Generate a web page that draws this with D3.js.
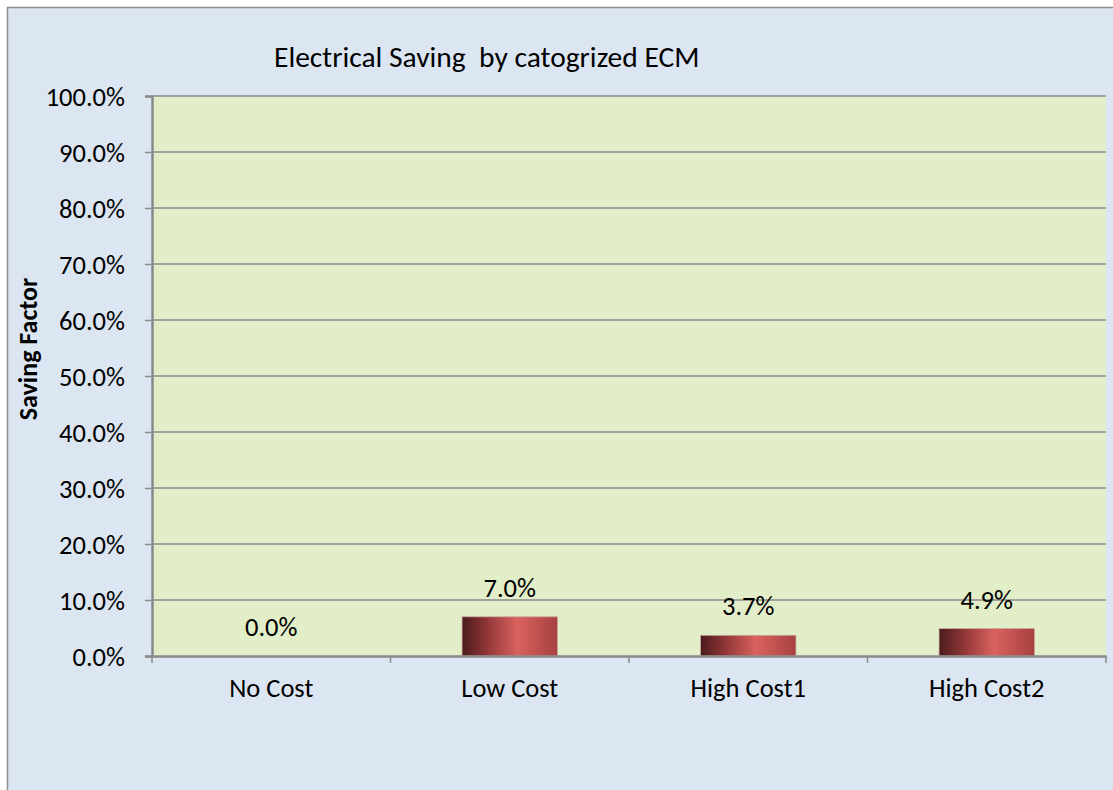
<!DOCTYPE html>
<html>
<head>
<meta charset="utf-8">
<script src="https://cdn.jsdelivr.net/npm/d3@7"></script>
<style>
  html, body { margin: 0; padding: 0; background: #ffffff; }
  svg { display: block; }
  text { font-family: Carlito, Lato, "Open Sans", "Liberation Sans", sans-serif; fill: #000; }
</style>
</head>
<body>
<svg id="chart" width="1113" height="790"></svg>
<script>
// Savings by ECM category
const categories = ["No Cost", "Low Cost", "High Cost1", "High Cost2"];
const savings = [0.0, 0.070, 0.037, 0.049];
const yTicks = [0, 0.1, 0.2, 0.3, 0.4, 0.5, 0.6, 0.7, 0.8, 0.9, 1.0];

const svg = d3.select("#chart");
const W = 1113, H = 790;
const plot = { left: 152, top: 96, right: 1106, bottom: 656 };

// chart frame
svg.append("rect")
  .attr("x", 7.5).attr("y", 7.5)
  .attr("width", W + 10).attr("height", H + 10)
  .attr("fill", "#dce6f2").attr("stroke", "#8c8c8c").attr("stroke-width", 1.5);

const x = d3.scaleBand().domain(categories).range([plot.left, plot.right]).paddingInner(0.6).paddingOuter(0.3);
const xOuter = d3.scaleBand().domain(categories).range([plot.left, plot.right]);
const y = d3.scaleLinear().domain([0, 1]).range([plot.bottom, plot.top]);

// plot area
svg.append("rect")
  .attr("x", plot.left).attr("y", plot.top)
  .attr("width", plot.right - plot.left).attr("height", plot.bottom - plot.top)
  .attr("fill", "#e1eec7");

// gridlines
svg.append("g").selectAll("line").data(yTicks.slice(1)).join("line")
  .attr("x1", plot.left).attr("x2", plot.right)
  .attr("y1", d => y(d)).attr("y2", d => y(d))
  .attr("stroke", "#8a8a8a").attr("stroke-width", 1.5);

// y axis
const yAxis = svg.append("g").attr("transform", `translate(${plot.left},0)`)
  .call(d3.axisLeft(y).tickValues(yTicks).tickFormat(d3.format(".1%")).tickSize(7).tickPadding(20));
yAxis.select(".domain").attr("stroke", "#8a8a8a").attr("stroke-width", 2.5);
yAxis.selectAll(".tick line").attr("stroke", "#8a8a8a").attr("stroke-width", 1.5);
yAxis.selectAll(".tick text").style("font-size", "26.5px").attr("dy", "0.35em");

// bar gradient
const defs = svg.append("defs");
const grad = defs.append("linearGradient").attr("id", "barGrad").attr("x1", "0").attr("x2", "1").attr("y1", "0").attr("y2", "0");
grad.append("stop").attr("offset", "0%").attr("stop-color", "#4a1b1c");
grad.append("stop").attr("offset", "25%").attr("stop-color", "#8e3536");
grad.append("stop").attr("offset", "58%").attr("stop-color", "#da625f");
grad.append("stop").attr("offset", "100%").attr("stop-color", "#a64140");

// bars
svg.append("g").selectAll("rect").data(categories).join("rect")
  .attr("x", d => x(d))
  .attr("y", (d, i) => y(savings[i]))
  .attr("width", x.bandwidth())
  .attr("height", (d, i) => y(0) - y(savings[i]))
  .attr("fill", "url(#barGrad)")
  .attr("stroke", "#c9a9a0").attr("stroke-width", 0.8);

// x axis
const xAxis = svg.append("g").attr("transform", `translate(0,${plot.bottom})`)
  .call(d3.axisBottom(xOuter).tickSize(0).tickPadding(22));
xAxis.select(".domain").attr("stroke", "#8a8a8a").attr("stroke-width", 2.5);
xAxis.selectAll(".tick text").style("font-size", "26.5px").attr("dy", "0.71em");
svg.append("g").selectAll("line").data(d3.range(categories.length + 1)).join("line")
  .attr("x1", i => plot.left + i * xOuter.step()).attr("x2", i => plot.left + i * xOuter.step())
  .attr("y1", plot.bottom).attr("y2", plot.bottom + 7)
  .attr("stroke", "#8a8a8a").attr("stroke-width", 1.5);

// data labels
svg.append("g").selectAll("text").data(categories).join("text")
  .attr("x", d => x(d) + x.bandwidth() / 2)
  .attr("y", (d, i) => y(savings[i]) - 20)
  .attr("text-anchor", "middle")
  .style("font-size", "26.5px")
  .text((d, i) => d3.format(".1%")(savings[i]));

// title
svg.append("text")
  .attr("x", 274).attr("y", 67)
  .attr("text-anchor", "start")
  .style("font-size", "29.5px")
  .attr("xml:space", "preserve")
  .text("Electrical Saving  by catogrized ECM");

// y axis title
svg.append("text")
  .attr("transform", `translate(37,349) rotate(-90)`)
  .attr("text-anchor", "middle")
  .style("font-size", "26px").style("font-weight", "bold")
  .text("Saving Factor");
</script>
</body>
</html>
